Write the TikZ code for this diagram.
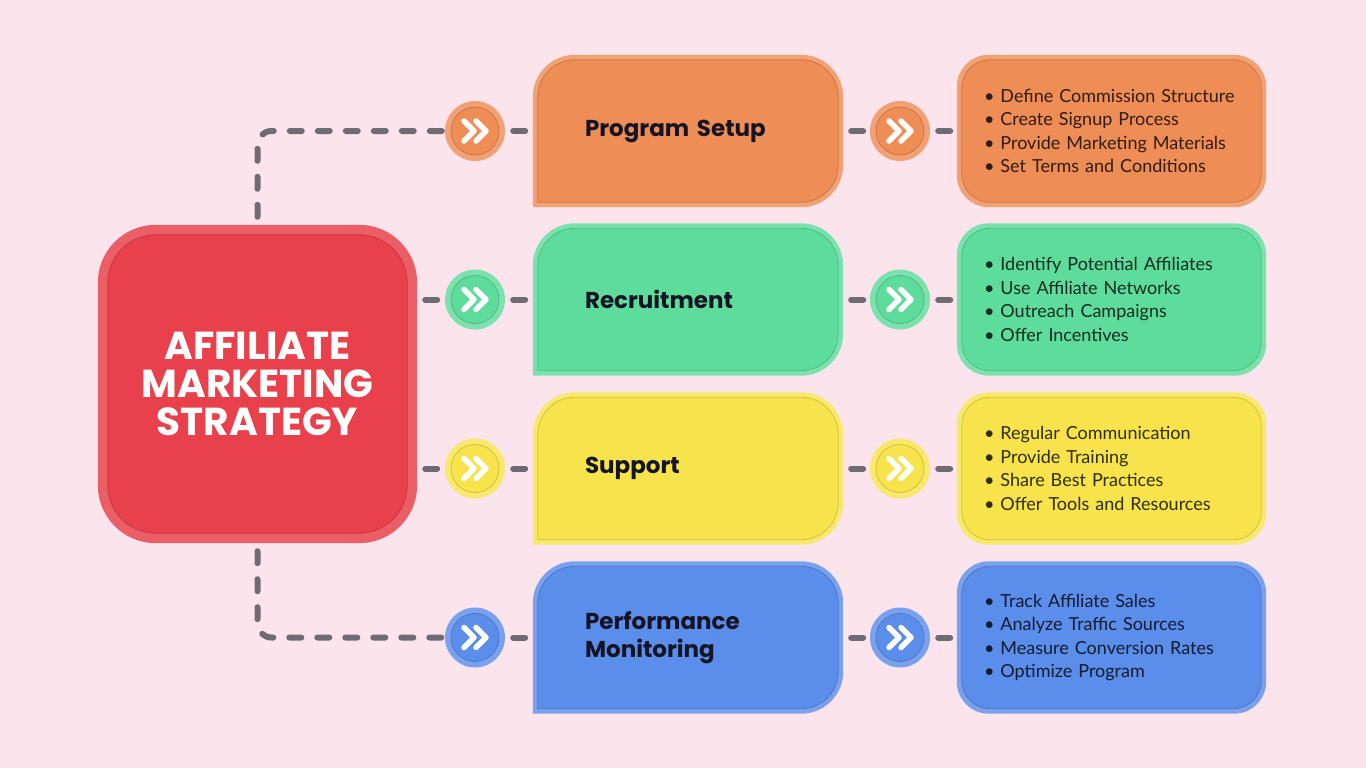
\documentclass[tikz,border=0pt]{standalone}
\usepackage{fontspec}
\setmainfont{Lato}
\newfontfamily\headfont{Poppins}
\usetikzlibrary{backgrounds}

\definecolor{pagebg}{RGB}{252,228,236}
\definecolor{linkgray}{RGB}{112,107,115}
\definecolor{hubred}{RGB}{233,65,75}
\definecolor{setuporange}{RGB}{238,141,85}
\definecolor{recruitgreen}{RGB}{94,220,155}
\definecolor{supportyellow}{RGB}{247,227,75}
\definecolor{monitorblue}{RGB}{91,141,234}
\definecolor{titleink}{RGB}{20,20,36}

\newcommand\listfont{\fontsize{18}{23.5}\selectfont\hyphenpenalty=10000\relax}

\tikzset{
  link/.style={linkgray, line width=6pt, line cap=round, dash pattern=on 12pt off 16pt, dash phase=20pt, rounded corners=14pt},
  hub/.style={rectangle, minimum width=319pt, minimum height=318pt, align=center, text=white, font=\headfont\bfseries\fontsize{39}{38}\selectfont},
  stage/.style={rectangle, minimum height=152pt, inner xsep=52pt, inner ysep=0pt, text width=206pt, align=left, text=titleink, font=\headfont\bfseries\fontsize{23}{28}\selectfont},
  tasks/.style={rectangle, minimum height=152pt, inner xsep=27pt, inner ysep=0pt, text width=255pt, align=left, font=\listfont},
  dot/.style={circle, minimum size=60pt, inner sep=0pt},
  chev/.style={white, line width=5.5pt, line cap=round, line join=round},
}

\begin{document}
\begin{tikzpicture}[x=1pt, y=-1pt]
  \useasboundingbox (0,0) rectangle (1366,768);
  % centre and stages
  \node[hub] (hub) at (257.5,384) {AFFILIATE\\MARKETING\\STRATEGY};
  \node[stage] (setup) at (688,131) {Program Setup};
  \node[stage] (recruit) at (688,299.5) {Recruitment};
  \node[stage] (support) at (688,468.5) {Support};
  \node[stage] (monitor) at (688,637.5) {Performance\\Monitoring};
  % lists
  \node[tasks, text=setuporange!20!black] (list-setup) at (1111.5,131) {•\ Define Commission Structure\\•\ Create Signup Process\\•\ Provide Marketing Materials\\•\ Set Terms and Conditions};
  \node[tasks, text=recruitgreen!20!black] (list-recruit) at (1111.5,299.5) {•\ Identify Potential Affiliates\\•\ Use Affiliate Networks\\•\ Outreach Campaigns\\•\ Offer Incentives};
  \node[tasks, text=supportyellow!20!black] (list-support) at (1111.5,468.5) {•\ Regular Communication\\•\ Provide Training\\•\ Share Best Practices\\•\ Offer Tools and Resources};
  \node[tasks, text=monitorblue!20!black] (list-monitor) at (1111.5,637.5) {•\ Track Affiliate Sales\\•\ Analyze Traffic Sources\\•\ Measure Conversion Rates\\•\ Optimize Program};
  % arrow dots
  \node[dot] (in-setup) at (475,131) {};
  \node[dot] (in-recruit) at (475,299.5) {};
  \node[dot] (in-support) at (475,468.5) {};
  \node[dot] (in-monitor) at (475,637.5) {};
  \node[dot] (out-setup) at (900,131) {};
  \node[dot] (out-recruit) at (900,299.5) {};
  \node[dot] (out-support) at (900,468.5) {};
  \node[dot] (out-monitor) at (900,637.5) {};

  \begin{scope}[on background layer]
    \fill[pagebg] (0,0) rectangle (1366,768);
    \fill[hubred!85!white, rounded corners=58pt] (hub.north west) rectangle (hub.south east);
    \filldraw[fill=hubred, draw=hubred!85!black, line width=0.8pt, rounded corners=48pt] ([shift={(10,10)}]hub.north west) rectangle ([shift={(-10,-10)}]hub.south east);
    \foreach \n/\c in {setup/setuporange, recruit/recruitgreen, support/supportyellow, monitor/monitorblue}{
      \fill[\c!82!white] (\n.west) [rounded corners=42pt] -- (\n.north west) -- (\n.north east) -- (\n.south east) -- (\n.south) [sharp corners] -- (\n.south west) -- cycle;
      \filldraw[fill=\c, draw=\c!85!black, line width=0.8pt] ([shift={(5,0)}]\n.west) [rounded corners=37pt] -- ([shift={(5,5)}]\n.north west) -- ([shift={(-5,5)}]\n.north east) -- ([shift={(-5,-5)}]\n.south east) -- ([shift={(0,-5)}]\n.south) [sharp corners] -- ([shift={(5,-5)}]\n.south west) -- cycle;
      \fill[\c!82!white, rounded corners=32pt] (list-\n.north west) rectangle (list-\n.south east);
      \filldraw[fill=\c, draw=\c!85!black, line width=0.8pt, rounded corners=28pt] ([shift={(5,5)}]list-\n.north west) rectangle ([shift={(-5,-5)}]list-\n.south east);
      \foreach \d in {in-\n, out-\n}{
        \fill[\c!82!white] (\d) circle (30);
        \filldraw[fill=\c, draw=\c!85!black, line width=0.8pt] (\d) circle (24);
        \draw[chev] ([shift={(-11,-10)}]\d.center) -- ++(10,10) -- ++(-10,10);
        \draw[chev] ([shift={(1,-10)}]\d.center) -- ++(10,10) -- ++(-10,10);
      }
    }
  \end{scope}

  % connectors
  \draw[link] (hub.north) |- (in-setup);
  \draw[link] (hub.east |- in-recruit) -- (in-recruit);
  \draw[link] (hub.east |- in-support) -- (in-support);
  \draw[link] (hub.south) |- (in-monitor);
  \foreach \n in {setup, recruit, support, monitor}{
    \draw[link] (in-\n) -- (\n);
    \draw[link] (\n) -- (out-\n);
    \draw[link] (out-\n) -- (list-\n);
  }
\end{tikzpicture}
\end{document}
